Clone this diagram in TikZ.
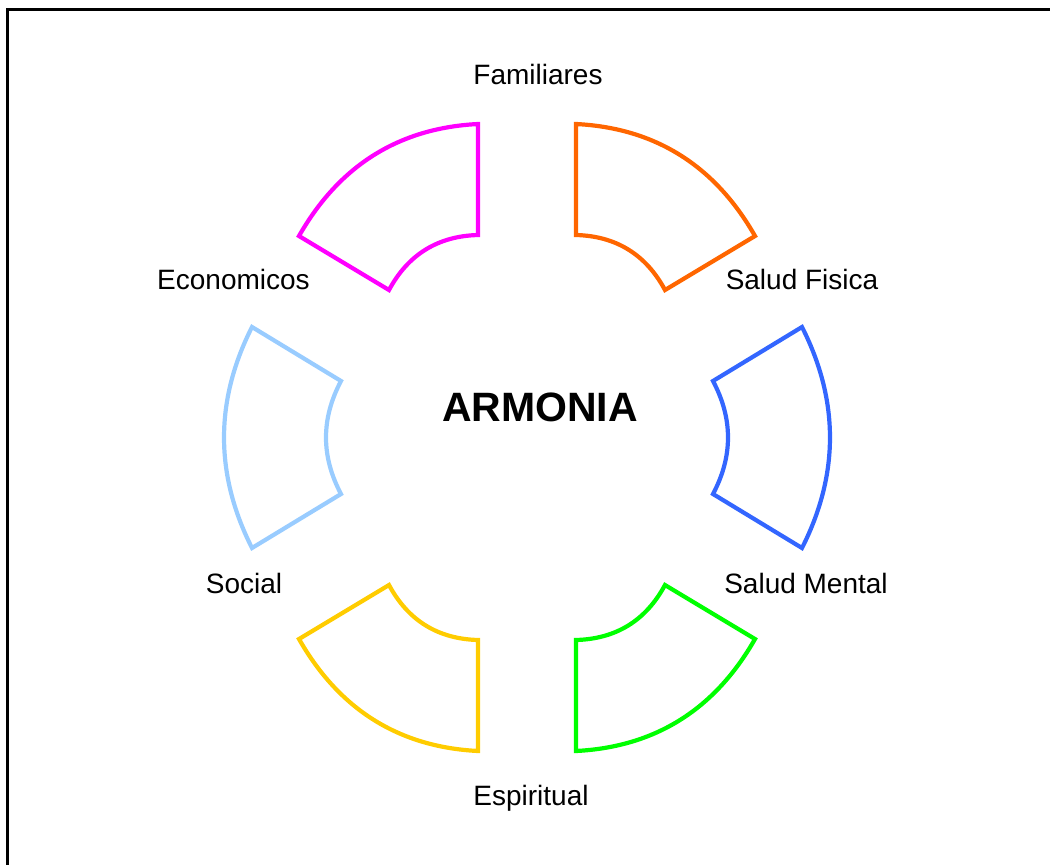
\documentclass[tikz,border=0pt]{standalone}
\usepackage{fontspec}
\setmainfont{Liberation Sans}
\definecolor{cOrange}{RGB}{255,102,0}
\definecolor{cMagenta}{RGB}{255,0,255}
\definecolor{cBlue}{RGB}{51,102,255}
\definecolor{cLight}{RGB}{153,204,255}
\definecolor{cGreen}{RGB}{0,255,0}
\definecolor{cYellow}{RGB}{255,204,0}
% sector lying next to the vertical axis (top/bottom ones)
\newcommand\vsector[3]{%
  \begin{scope}[shift={(527,437.5)},xscale=#2,yscale=#3]
    \draw[sect,#1] (49,-313.5) .. controls (128,-309.5) and (187.7,-272.2) .. (228,-201.5)
      -- (138,-147.5) .. controls (118.9,-183) and (89.2,-201.4) .. (49,-202.5) -- cycle;
  \end{scope}}
% sector lying on the horizontal axis (left/right ones)
\newcommand\hsector[2]{%
  \begin{scope}[shift={(527,437.5)},xscale=#2]
    \draw[sect,#1] (275,-110.5) .. controls (312.3,-36.8) and (312.3,36.8) .. (275,110.5)
      -- (186,56.5) .. controls (206,18.8) and (206,-18.8) .. (186,-56.5) -- cycle;
  \end{scope}}
\begin{document}
\begin{tikzpicture}[x=1pt,y=-1pt,
  sect/.style={line width=4.2pt,line join=miter},
  lbl/.style={font=\fontsize{28}{34}\selectfont,anchor=base,inner sep=0pt},
  title/.style={font=\fontsize{41}{48}\selectfont\bfseries,anchor=base,inner sep=0pt}]
\useasboundingbox (0,0) rectangle (1050,865);
\draw[line width=3pt] (7.5,865) -- (7.5,9.2) -- (1050,9.2);
\vsector{cOrange}{1}{1}
\vsector{cMagenta}{-1}{1}
\vsector{cGreen}{1}{-1}
\vsector{cYellow}{-1}{-1}
\hsector{cBlue}{1}
\hsector{cLight}{-1}
\node[title] (armonia) at (540,421) {ARMONIA};
\node[lbl] (familiares) at (538,84) {Familiares};
\node[lbl] (fisica) at (802,289) {Salud Fisica};
\node[lbl] (economicos) at (233.5,289) {Economicos};
\node[lbl] (social) at (244,593) {Social};
\node[lbl] (mental) at (806,593) {Salud Mental};
\node[lbl] (espiritual) at (531,805) {Espiritual};
\end{tikzpicture}
\end{document}
